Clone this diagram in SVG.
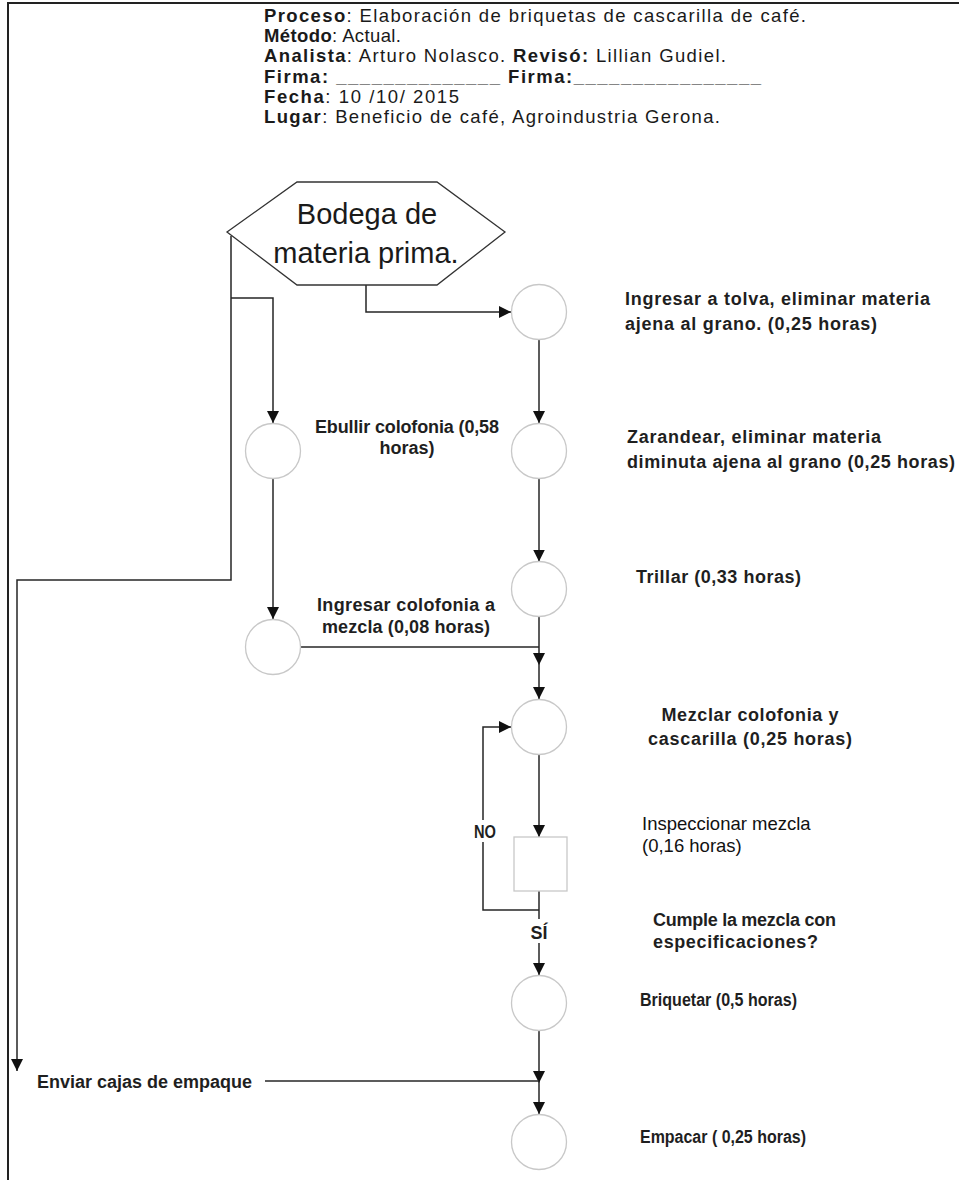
<svg xmlns="http://www.w3.org/2000/svg" width="959" height="1180" viewBox="0 0 959 1180">
  <style>
    .frame { fill: none; stroke: #222; stroke-width: 2; }
    .hd { font-family: "Liberation Sans", Arial, sans-serif; font-size: 18.5px; fill: #1a1a1a; }
    .b { font-weight: bold; }
    .lbl { font-family: "Liberation Sans", Arial, sans-serif; font-size: 18px; font-weight: bold; fill: #1f1f1f; }
    .reg { font-family: "Liberation Sans", Arial, sans-serif; font-size: 18.5px; fill: #111; }
    .hexlbl { font-family: "Liberation Sans", Arial, sans-serif; font-size: 29px; fill: #1a1a1a; text-anchor: middle; }
    .op { fill: #fff; stroke: #c8c8c8; stroke-width: 1.3; }
    .hex { fill: #fff; stroke: #333; stroke-width: 1.3; }
    .ln { fill: none; stroke: #262626; stroke-width: 1.5; }
    .arr { marker-end: url(#ah); }
    .knock { fill: #fff; }
  </style>
  <defs>
    <marker id="ah" viewBox="0 0 12 12" refX="12" refY="6" markerWidth="12" markerHeight="12" markerUnits="userSpaceOnUse" orient="auto">
      <path d="M0,0 L12,6 L0,12 Z" fill="#111"/>
    </marker>
  </defs>

  <!-- page frame (top and left edges) -->
  <path class="frame" d="M959,3 H8 V1180"/>

  <!-- header block -->
  <g id="header">
    <text class="hd" x="264" y="22" textLength="542" lengthAdjust="spacing"><tspan class="b">Proceso</tspan>: Elaboración de briquetas de cascarilla de café.</text>
    <text class="hd" x="264" y="42" textLength="137" lengthAdjust="spacing"><tspan class="b">Método</tspan>: Actual.</text>
    <text class="hd" x="264" y="62" textLength="462" lengthAdjust="spacing"><tspan class="b">Analista</tspan>: Arturo Nolasco. <tspan class="b">Revisó:</tspan> Lillian Gudiel.</text>
    <text class="hd b" x="264" y="83" textLength="497" lengthAdjust="spacing">Firma: ______________ Firma:________________</text>
    <text class="hd" x="264" y="103" textLength="195" lengthAdjust="spacing"><tspan class="b">Fecha</tspan>: 10 /10/ 2015</text>
    <text class="hd" x="264" y="123" textLength="456" lengthAdjust="spacing"><tspan class="b">Lugar</tspan>: Beneficio de café, Agroindustria Gerona.</text>
  </g>

  <!-- connectors -->
  <g id="connectors">
    <!-- store to first operation -->
    <path class="ln arr" d="M366,285 V312 H511"/>
    <!-- store to packing boxes branch -->
    <path class="ln arr" d="M231,236 V580 H17 V1071"/>
    <!-- store to rosin branch -->
    <path class="ln arr" d="M231,298 H273 V423"/>
    <path class="ln arr" d="M273,478.5 V619"/>
    <path class="ln" d="M300.5,647 H539"/>
    <!-- main column -->
    <path class="ln arr" d="M539,339.5 V423"/>
    <path class="ln arr" d="M539,478.5 V561.5"/>
    <path class="ln arr" d="M539,616.5 V665"/>
    <path class="ln arr" d="M539,665 V699"/>
    <path class="ln arr" d="M539,754.5 V837"/>
    <!-- inspection outcome -->
    <path class="ln" d="M539,891 V910"/>
    <path class="ln arr" d="M539,910 V975"/>
    <path class="ln arr" d="M539,910 H483 V727 H511"/>
    <path class="ln arr" d="M539,1030 V1083"/>
    <path class="ln arr" d="M539,1083 V1114"/>
    <path class="ln" d="M265,1081 H539"/>
    <!-- branch labels -->
    <rect class="knock" x="470" y="820" width="30" height="22"/>
    <text class="lbl" x="485" y="838" text-anchor="middle" textLength="22" lengthAdjust="spacingAndGlyphs">NO</text>
    <rect class="knock" x="528" y="919" width="22" height="24"/>
    <text class="lbl" x="539" y="939" text-anchor="middle">SÍ</text>
  </g>

  <!-- raw material store -->
  <g id="bodega">
    <polygon class="hex" points="227,232 297,182 437,182 505,232 437,285 297,285"/>
    <text class="hexlbl" x="367" y="224">Bodega de</text>
    <text class="hexlbl" x="366" y="263">materia prima.</text>
  </g>

  <g id="op-tolva">
    <circle class="op" cx="539" cy="312" r="27.5"/>
    <text class="lbl" x="625" y="305" textLength="305" lengthAdjust="spacing">Ingresar a tolva, eliminar materia</text>
    <text class="lbl" x="625" y="330" textLength="252" lengthAdjust="spacing">ajena al grano. (0,25 horas)</text>
  </g>

  <g id="op-zarandear">
    <circle class="op" cx="539" cy="451" r="27.5"/>
    <text class="lbl" x="627" y="443" textLength="254" lengthAdjust="spacing">Zarandear, eliminar materia</text>
    <text class="lbl" x="627" y="468" textLength="328" lengthAdjust="spacing">diminuta ajena al grano (0,25 horas)</text>
  </g>

  <g id="op-trillar">
    <circle class="op" cx="539" cy="589" r="27.5"/>
    <text class="lbl" x="636" y="583" textLength="165" lengthAdjust="spacing">Trillar (0,33 horas)</text>
  </g>

  <g id="op-ebullir">
    <circle class="op" cx="273" cy="451" r="27.5"/>
    <text class="lbl" x="407" y="433" text-anchor="middle" textLength="184" lengthAdjust="spacing">Ebullir colofonia (0,58</text>
    <text class="lbl" x="407" y="454" text-anchor="middle">horas)</text>
  </g>

  <g id="op-ingresar-colofonia">
    <circle class="op" cx="273" cy="647" r="27.5"/>
    <text class="lbl" x="406" y="611" text-anchor="middle" textLength="178" lengthAdjust="spacing">Ingresar colofonia a</text>
    <text class="lbl" x="406" y="633" text-anchor="middle" textLength="168" lengthAdjust="spacing">mezcla (0,08 horas)</text>
  </g>

  <g id="op-mezclar">
    <circle class="op" cx="539" cy="727" r="27.5"/>
    <text class="lbl" x="750" y="721" text-anchor="middle" textLength="177" lengthAdjust="spacing">Mezclar colofonia y</text>
    <text class="lbl" x="750" y="745" text-anchor="middle" textLength="204" lengthAdjust="spacing">cascarilla (0,25 horas)</text>
  </g>

  <g id="insp-mezcla">
    <rect class="op" x="514" y="837" width="53" height="54"/>
    <text class="reg" x="642" y="830">Inspeccionar mezcla</text>
    <text class="reg" x="642" y="852">(0,16 horas)</text>
  </g>

  <g id="decision-note">
    <text class="lbl" x="653" y="926" textLength="183" lengthAdjust="spacing">Cumple la mezcla con</text>
    <text class="lbl" x="653" y="948" textLength="165" lengthAdjust="spacing">especificaciones?</text>
  </g>

  <g id="op-briquetar">
    <circle class="op" cx="539" cy="1003" r="27.5"/>
    <text class="lbl" x="640" y="1006" textLength="157" lengthAdjust="spacingAndGlyphs">Briquetar (0,5 horas)</text>
  </g>

  <g id="envio-cajas">
    <text class="lbl" x="37" y="1088" textLength="215" lengthAdjust="spacingAndGlyphs">Enviar cajas de empaque</text>
  </g>

  <g id="op-empacar">
    <circle class="op" cx="539" cy="1142" r="27.5"/>
    <text class="lbl" x="640" y="1143" textLength="166" lengthAdjust="spacingAndGlyphs">Empacar ( 0,25 horas)</text>
  </g>
</svg>
